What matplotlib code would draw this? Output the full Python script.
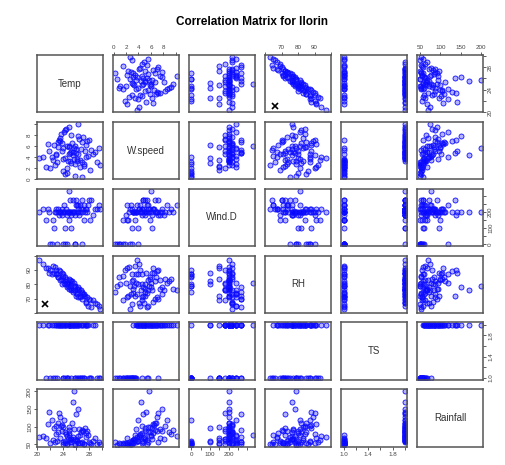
import numpy as np
import matplotlib.pyplot as plt

plt.rcParams['font.family'] = ['Liberation Sans', 'DejaVu Sans']

names = ["Temp", "W.speed", "Wind.D", "RH", "TS", "Rainfall"]

temp = [25.1, 26.4, 23.8, 27.2, 24.6, 22.3, 28.1, 25.7, 21.4, 26.8,
        24.1, 23.2, 27.9, 25.3, 29.2, 24.9, 22.8, 26.1, 23.5, 25.9,
        27.5, 24.4, 21.9, 26.6, 25.0, 28.6, 23.9, 24.7, 26.3, 22.5,
        25.5, 27.0, 24.2, 23.0, 29.8, 25.8, 26.9, 24.0, 21.0, 27.7,
        25.2, 23.6, 26.2, 24.5, 28.4, 22.1, 25.6, 26.5, 24.8, 23.3,
        27.3, 25.4, 20.4, 26.0, 24.3, 28.9, 23.7, 25.1, 26.7, 22.6,
        24.6, 27.1, 25.7, 23.1, 26.4, 24.9, 21.7, 28.2, 25.3, 26.9,
        24.1, 27.6, 23.4, 25.9, 29.5, 24.4, 22.9, 26.2, 25.0, 27.4]

wspeed = [3.2, 4.5, 5.1, 2.8, 6.0, 4.0, 7.2, 3.6, 2.1, 5.5,
          1.5, 6.8, 4.2, 8.1, 3.0, 5.8, 2.5, 4.8, 7.5, 0.6,
          6.3, 3.9, 5.2, 2.2, 9.6, 4.6, 6.5, 1.1, 7.8, 3.4,
          5.0, 3.1, 8.6, 4.3, 2.6, 6.1, 0.3, 5.6, 4.1, 6.9,
          2.9, 7.0, 3.7, 9.2, 5.3, 1.9, 4.4, 7.4, 3.3, 5.9,
          2.4, 6.6, 3.8, 5.4, 0.9, 4.9, 8.3, 4.7, 3.5, 6.2,
          2.0, 7.7, 5.7, 3.0, 10.1, 4.5, 6.4, 1.6, 5.0, 6.7,
          3.6, 4.1, 7.1, 2.7, 5.6, 8.9, 4.6, 3.2, 6.0, 5.1]

wind_dir = [200, 220, 180, 240, 200, 0, 270, 200, 150, 220,
            0, 200, 240, 180, 220, 150, 200, 270, 200, 0,
            220, 100, 200, 240, 200, 180, 220, 0, 200, 150,
            270, 200, 240, 200, 220, 180, 0, 200, 220, 200,
            100, 200, 240, 220, 270, 0, 200, 180, 200, 220,
            150, 200, 200, 240, 0, 220, 200, 270, 200, 100,
            180, 220, 200, 0, 240, 200, 220, 150, 200, 270,
            200, 220, 180, 0, 240, 200, 220, 200, 330, 200]

rh = [83, 71, 80, 73, 78, 87, 70, 81, 91, 76,
      86, 85, 65, 76, 66, 84, 92, 72, 83, 79,
      68, 80, 88, 71, 77, 69, 88, 80, 78, 93,
      75, 74, 81, 90, 63, 76, 75, 83, 94, 71,
      82, 89, 73, 84, 64, 90, 76, 77, 79, 85,
      72, 82, 97, 74, 85, 67, 84, 78, 72, 88,
      81, 73, 79, 87, 76, 80, 91, 69, 77, 70,
      87, 67, 90, 79, 65, 82, 87, 77, 81, 72]

ts = [2, 1, 2, 1, 2, 2, 1, 2, 1, 2,
      1, 2, 2, 2, 1, 2, 1, 2, 2, 1,
      2, 2, 2, 1, 2, 2, 2, 1, 2, 1,
      2, 1, 2, 2, 1, 2, 1, 2, 2, 2,
      1, 2, 2, 2, 1, 1, 2, 2, 1, 2,
      1, 2, 2, 2, 1, 2, 2, 2, 1, 2,
      1, 2, 2, 1, 2, 2, 2, 1, 2, 2,
      1, 2, 2, 1, 1, 2, 2, 1, 2, 2]

rainfall = [62, 55, 88, 51, 73, 120, 58, 95, 67, 84,
            52, 110, 76, 64, 50, 98, 57, 135, 69, 49,
            81, 59, 142, 54, 91, 61, 105, 50, 150, 63,
            72, 53, 118, 80, 52, 66, 56, 99, 75, 87,
            58, 128, 60, 79, 51, 55, 170, 94, 65, 84,
            50, 112, 70, 62, 53, 68, 103, 57, 77, 96,
            52, 88, 200, 60, 74, 83, 107, 54, 66, 92,
            58, 71, 139, 50, 56, 86, 101, 63, 78, 97]

# black cross seen in the Temp / RH panels
marked_temp = [21.2]
marked_rh = [66]

tick_pos = [
    [20, 22, 24, 26, 28, 30],
    [0, 2, 4, 6, 8, 10],
    [0, 50, 100, 150, 200, 250, 300],
    [60, 70, 80, 90, 100],
    [1.0, 1.2, 1.4, 1.6, 1.8, 2.0],
    [50, 100, 150, 200],
]
tick_lab = [
    {20: "20", 24: "24", 28: "28"},
    {0: "0", 2: "2", 4: "4", 6: "6", 8: "8"},
    {0: "0", 100: "100", 200: "200"},
    {70: "70", 80: "80", 90: "90"},
    {1.0: "1.0", 1.4: "1.4", 1.8: "1.8"},
    {50: "50", 100: "100", 150: "150", 200: "200"},
]

data = [temp, wspeed, wind_dir, rh, ts, rainfall]
n = len(names)


def limits(v):
    lo, hi = min(v), max(v)
    pad = (hi - lo) * 0.04
    return lo - pad, hi + pad


def labels_for(k):
    return [tick_lab[k].get(t, "") for t in tick_pos[k]]


fig, axes = plt.subplots(n, n, figsize=(5.05, 4.65), dpi=100)
fig.subplots_adjust(left=0.073, right=0.957, top=0.882, bottom=0.039,
                    wspace=0.152, hspace=0.163)

frame_col = "#555555"
pt_col = "#1010ff"

for i in range(n):
    for j in range(n):
        ax = axes[i][j]
        for s in ax.spines.values():
            s.set_color(frame_col)
            s.set_linewidth(1.1)
        ax.tick_params(which="both", top=False, bottom=False, left=False, right=False,
                       labeltop=False, labelbottom=False, labelleft=False, labelright=False,
                       length=2, width=0.6, pad=1.5, labelsize=4.5, colors="#444444")
        ax.set_xlim(*limits(data[j]))
        ax.set_ylim(*limits(data[i]))
        if i == j:
            ax.text(0.5, 0.5, names[i], transform=ax.transAxes, ha="center", va="center",
                    fontsize=7, color="#333333")
        else:
            ax.plot(data[j], data[i], linestyle="none", marker="o", markersize=3.6,
                    markerfacecolor=(0, 0, 1, 0.3), markeredgecolor=pt_col,
                    markeredgewidth=0.6)
            if j == 3 and i == 0:
                ax.plot(marked_rh, marked_temp, linestyle="none", marker="x",
                        color="black", markersize=4, markeredgewidth=1.2)
            if j == 0 and i == 3:
                ax.plot(marked_temp, marked_rh, linestyle="none", marker="x",
                        color="black", markersize=4, markeredgewidth=1.2)
        ax.set_xticks(tick_pos[j])
        ax.set_xticklabels(labels_for(j))
        ax.set_yticks(tick_pos[i])
        ax.set_yticklabels(labels_for(i), rotation=90, va="center")
        if i == 0 and j % 2 == 1:
            ax.tick_params(top=True, labeltop=True)
        if i == n - 1 and j % 2 == 0:
            ax.tick_params(bottom=True, labelbottom=True)
        if j == 0 and i % 2 == 1:
            ax.tick_params(left=True, labelleft=True)
        if j == n - 1 and i % 2 == 0:
            ax.tick_params(right=True, labelright=True)

fig.suptitle("Correlation Matrix for Ilorin", y=0.965, fontsize=8.5, fontweight="bold")

fig.savefig("out.png", dpi=100)
